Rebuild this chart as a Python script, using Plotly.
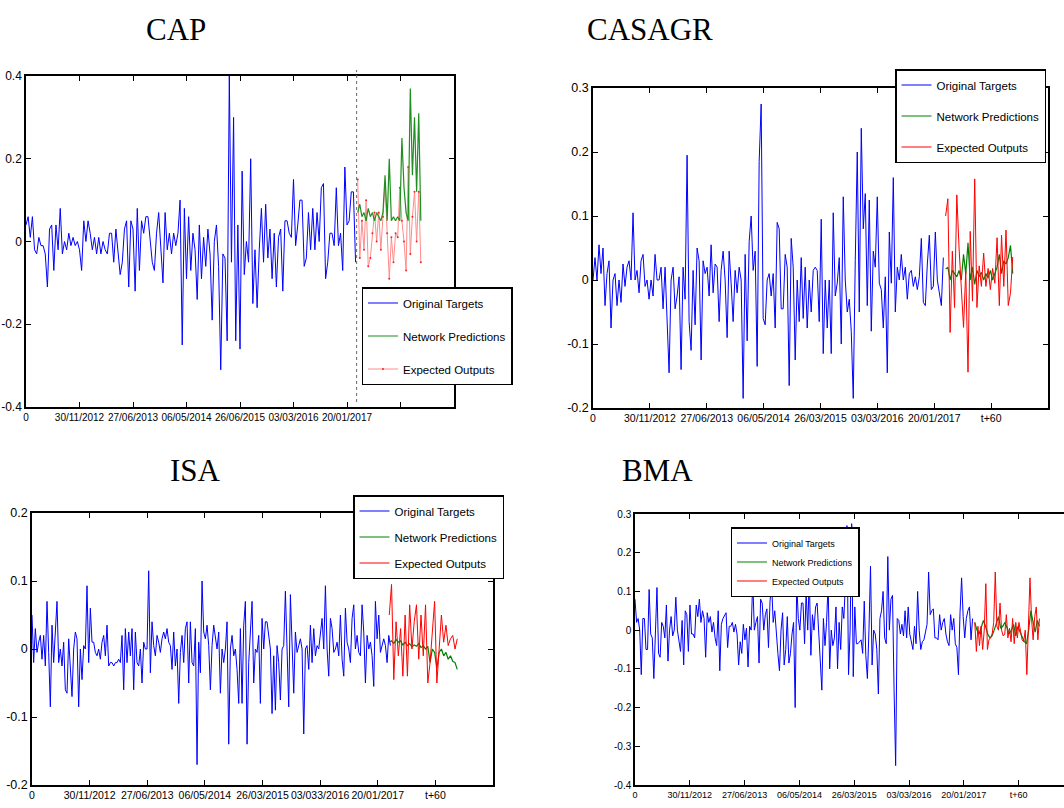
import numpy as np
import plotly.graph_objects as go

W, H = 1064, 808          # screenshot size

# ---------------- data ----------------
CAP_TARGETS = [
    0.04, 0.06, 0.01, 0.06, -0.02, -0.03, 0.01, -0.01, -0.01, -0.03,
    -0.11, 0.03, 0.04, -0.07, 0.04, -0.02, 0.08, -0.03, 0.0, -0.02,
    0.02, -0.01, 0.01, -0.01, 0.0, -0.02, -0.07, 0.05, 0.0, 0.05,
    0.02, -0.02, 0.01, -0.03, 0.01, -0.03, 0.0, -0.02, -0.03, 0.02,
    0.02, -0.05, 0.03, -0.02, -0.08, -0.05, 0.03, 0.05, -0.11, 0.05,
    0.03, -0.12, 0.08, -0.07, 0.05, 0.02, 0.06, 0.06, 0.0, -0.05,
    -0.07, 0.02, 0.07, -0.01, -0.10, 0.07, -0.02, 0.02, -0.03, 0.02,
    -0.01, 0.02, 0.10, -0.25, 0.08, -0.09, 0.06, -0.07, 0.02, -0.02,
    -0.14, 0.04, -0.09, 0.01, -0.06, 0.03, -0.03, -0.19, 0.0, 0.04,
    -0.06, -0.31, -0.03, -0.04, -0.24, 0.40, -0.05, 0.30, -0.24, 0.04,
    -0.26, 0.17, -0.08, 0.0, -0.05, 0.20, -0.15, -0.02, -0.16, -0.02,
    0.08, -0.05, 0.09, -0.04, 0.03, -0.09, 0.02, -0.11, 0.01, 0.03,
    -0.12, 0.05, 0.05, 0.02, 0.01, 0.15, -0.01, 0.04, 0.10, 0.10,
    -0.06, -0.04, 0.07, -0.02, 0.08, -0.02, 0.07, 0.0, 0.13, 0.14,
    -0.09, -0.05, 0.02, 0.02, -0.01, 0.13, -0.01, 0.02, -0.07, 0.18,
    0.04, 0.05, 0.12, 0.12, -0.05]
CAP_PRED = [
    0.07, 0.09, 0.06, 0.07, 0.05, 0.08, 0.06, 0.07, 0.05, 0.07,
    0.06, 0.05, 0.07, 0.16, 0.05, 0.20, 0.05, 0.06, 0.05, 0.06,
    0.05, 0.25, 0.13, 0.07, 0.05, 0.37, 0.16, 0.30, 0.12, 0.31, 0.05]
CAP_EXPECTED = [
    0.15, -0.04, 0.05, -0.02, 0.10, -0.06, -0.04, 0.02, 0.07, 0.0,
    0.07, -0.02, 0.06, 0.14, 0.02, -0.09, 0.01, -0.05, 0.02, 0.01,
    0.13, 0.05, 0.0, -0.07, 0.18, -0.03, 0.06, 0.12, 0.0, 0.12, -0.05]

CASAGR_TARGETS = [
    0.0, 0.035, 0.0, 0.055, 0.01, 0.05, -0.04, 0.01, 0.03, -0.075,
    0.0, 0.01, -0.04, 0.0, -0.035, 0.025, -0.01, 0.02, 0.03, 0.0,
    0.105, 0.0, 0.015, -0.02, 0.03, 0.04, -0.01, 0.0, -0.03, 0.0,
    -0.025, 0.04, 0.0, 0.0, 0.02, -0.045, 0.02, -0.055, -0.145, 0.0,
    0.02, -0.045, -0.025, 0.005, -0.14, 0.02, -0.03, 0.195, -0.065, -0.11,
    0.015, -0.07, 0.05, 0.03, -0.125, 0.03, 0.01, 0.02, -0.025, 0.055,
    -0.02, 0.025, 0.02, -0.065, 0.015, 0.045, 0.0, -0.09, 0.045, -0.005,
    -0.065, 0.015, -0.02, 0.02, 0.0, -0.185, 0.04, -0.095, 0.06, 0.10,
    0.015, 0.045, -0.135, 0.185, 0.275, -0.06, -0.07, 0.0, 0.01, -0.025,
    0.01, -0.075, 0.09, 0.08, -0.045, -0.045, 0.04, 0.02, -0.165, 0.065,
    0.02, -0.125, 0.0, -0.065, 0.035, -0.06, 0.02, -0.075, 0.0, -0.05,
    0.015, 0.02, 0.015, -0.065, 0.095, -0.115, 0.0, -0.075, 0.0, -0.115,
    0.105, -0.025, -0.005, 0.035, -0.1, 0.13, 0.0, -0.05, -0.03, -0.08,
    -0.185, 0.03, 0.2, -0.05, 0.237, 0.08, 0.135, -0.04, 0.125, -0.08,
    0.045, 0.02, 0.13, -0.005, -0.015, -0.075, 0.005, -0.145, 0.075, -0.005,
    0.16, -0.05, 0.02, 0.0, 0.04, 0.0, 0.02, -0.03, 0.01, 0.015,
    -0.01, 0.005, -0.015, 0.005, 0.065, -0.035, -0.04, 0.025, 0.07, -0.015,
    -0.01, 0.075, 0.0, -0.02, -0.04, 0.035]
CASAGR_PRED = [
    0.017, 0.02, 0.0, 0.015, 0.01, 0.005, 0.015, 0.0, 0.04, 0.01,
    0.058, 0.0, 0.02, -0.007, 0.015, 0.005, 0.012, 0.0, 0.01, 0.003,
    0.015, 0.0, 0.01, 0.02, 0.04, 0.01, 0.03, 0.025, 0.035, 0.054, 0.01]
CASAGR_EXPECTED = [
    0.10, 0.127, -0.082, 0.045, -0.043, 0.133, 0.05, -0.017, -0.074, 0.014,
    -0.144, 0.076, -0.033, 0.158, -0.043, 0.022, -0.01, 0.042, -0.01, 0.018,
    -0.015, 0.018, -0.005, 0.066, -0.04, 0.07, -0.01, 0.078, -0.04, -0.02, 0.036]

ISA_TARGETS = [
    0.05, -0.02, 0.03, -0.005, 0.01, 0.02, -0.015, 0.02, -0.025, 0.07,
    -0.005, -0.085, 0.035, -0.02, 0.025, 0.07, -0.02, 0.0, -0.025, 0.01,
    -0.06, -0.065, 0.015, -0.02, -0.07, 0.0, 0.025, 0.015, -0.085, 0.0,
    -0.045, 0.005, 0.0, 0.093, -0.02, 0.06, 0.01, 0.01, -0.005, -0.01,
    0.0, -0.015, 0.01, 0.02, -0.01, 0.035, -0.025, -0.02, -0.02, -0.025,
    -0.02, -0.02, -0.015, -0.02, 0.02, -0.06, 0.03, -0.02, 0.025, -0.01,
    0.03, -0.06, 0.025, -0.02, -0.025, 0.0, -0.05, 0.01, 0.0, 0.0,
    0.115, -0.035, 0.04, 0.005, -0.01, 0.02, 0.01, -0.005, 0.015, 0.025,
    0.015, 0.03, 0.01, 0.005, -0.03, 0.025, -0.025, 0.0, -0.08, -0.005,
    0.02, -0.02, 0.03, 0.04, -0.05, 0.04, -0.02, -0.025, 0.03, -0.17,
    0.01, -0.035, 0.1, 0.025, 0.015, 0.035, 0.005, -0.06, 0.005, 0.035,
    0.015, 0.0, 0.025, -0.065, 0.0, -0.02, 0.0, 0.04, -0.14, 0.0,
    0.02, -0.01, 0.0, -0.03, -0.08, 0.03, -0.08, 0.035, 0.07, -0.14,
    -0.02, 0.02, 0.07, -0.05, 0.0, -0.005, 0.02, -0.08, 0.045, 0.0,
    0.04, 0.04, 0.02, 0.0, -0.095, -0.01, -0.09, 0.005, -0.02, -0.075,
    0.0, 0.005, 0.085, 0.0, -0.085, 0.08, 0.0, -0.065, 0.025, -0.005,
    0.005, 0.015, 0.0, -0.125, 0.0, 0.005, -0.03, 0.035, -0.02, 0.03,
    -0.01, 0.005, 0.0, 0.02, 0.045, 0.0, 0.093, 0.0, -0.04, 0.045,
    0.03, -0.005, 0.0, 0.01, -0.01, 0.05, -0.015, -0.04, 0.06, 0.01,
    0.0, -0.02, 0.045, 0.065, 0.0, 0.02, -0.005, -0.01, 0.065, 0.025,
    -0.05, 0.02, 0.0, 0.01, -0.01, -0.055, 0.07, 0.015, 0.05, -0.005,
    0.005, 0.015, 0.005, -0.02, 0.02, 0.005]
ISA_PRED = [
    0.01, 0.012, 0.008, 0.014, 0.01, 0.012, 0.006, 0.01, 0.005, 0.008,
    0.003, 0.006, 0.004, 0.008, 0.002, 0.005, 0.0, 0.004, -0.02, 0.0,
    -0.005, -0.028, -0.005, 0.0, -0.01, -0.005, -0.015, -0.01, -0.018, -0.02, -0.03]
ISA_EXPECTED = [
    0.05, 0.095, -0.045, 0.04, -0.01, 0.03, -0.04, 0.05, -0.04, 0.065,
    0.0, 0.04, 0.065, -0.015, 0.05, -0.01, 0.065, -0.05, -0.02, 0.02,
    0.07, -0.05, 0.0, 0.05, 0.01, 0.035, 0.005, 0.015, 0.02, 0.0, 0.015]

BMA_TARGETS = [
    0.08, 0.02, 0.03, 0.0, -0.115, 0.03, 0.03, -0.05, -0.05, 0.105,
    -0.01, -0.02, -0.125, 0.0, 0.11, -0.06, -0.07, 0.02, 0.01, -0.02,
    0.065, -0.08, 0.0, 0.035, -0.015, 0.0, 0.085, 0.0, -0.03, -0.055,
    0.025, -0.09, 0.05, 0.04, -0.055, 0.065, -0.01, -0.01, -0.02, 0.065,
    0.035, 0.08, 0.02, 0.05, 0.03, -0.07, 0.045, 0.02, 0.035, -0.005,
    0.02, -0.02, -0.04, 0.05, -0.105, 0.015, 0.03, 0.04, 0.045, -0.045,
    0.01, 0.01, 0.02, -0.005, 0.015, -0.01, -0.09, -0.03, -0.06, 0.015,
    -0.025, 0.005, -0.095, 0.01, 0.0, 0.13, 0.0, 0.02, 0.035, -0.085,
    0.08, 0.07, 0.0, 0.04, 0.055, -0.045, 0.075, 0.12, 0.02, 0.05,
    -0.02, -0.06, -0.105, 0.0, 0.045, -0.09, -0.05, 0.035, -0.085, -0.06,
    -0.01, 0.02, -0.2, 0.12, 0.03, 0.0, 0.07, 0.07, -0.035, 0.1,
    0.0, 0.14, -0.065, 0.04, 0.0, 0.06, 0.07, 0.0, -0.09, -0.155,
    0.03, -0.04, 0.02, 0.12, -0.1, 0.0, -0.04, -0.02, 0.06, -0.1,
    0.02, -0.05, 0.06, 0.03, 0.12, 0.27, -0.115, 0.0, 0.275, -0.12,
    0.06, -0.035, -0.035, -0.03, -0.025, -0.06, 0.075, -0.065, -0.125, 0.0,
    0.165, -0.09, 0.0, -0.01, -0.05, -0.165, 0.03, 0.05, 0.1, -0.02,
    -0.035, 0.19, 0.0, 0.08, 0.09, -0.155, -0.35, 0.03, 0.025, -0.01,
    0.015, -0.015, 0.05, -0.02, 0.06, -0.01, -0.03, -0.05, 0.01, -0.035,
    0.1, 0.0, -0.05, -0.03, -0.025, 0.0, 0.015, 0.15, 0.04, 0.05,
    0.055, -0.02, -0.02, -0.025, 0.04, 0.0, 0.02, 0.03, -0.01, -0.03,
    -0.04, 0.04, 0.0, 0.03, -0.035, -0.045, -0.115, 0.045, 0.135, 0.035,
    -0.02, 0.03, 0.05, 0.06, -0.025, 0.03]
BMA_PRED = [
    0.02, 0.0, -0.01, 0.005, 0.025, 0.01, -0.01, -0.02, -0.015, 0.0,
    0.02, 0.035, 0.005, 0.01, 0.02, 0.005, -0.01, 0.0, 0.015, -0.015,
    0.01, -0.005, -0.02, -0.03, -0.035, 0.0, 0.05, 0.02, -0.005, 0.025, 0.01]
BMA_EXPECTED = [
    0.02, -0.055, 0.01, -0.04, 0.01, -0.05, 0.0, 0.12, -0.05, -0.025,
    -0.02, -0.01, 0.02, 0.15, 0.01, 0.0, 0.07, 0.0, -0.015, -0.01,
    0.04, -0.02, 0.005, -0.03, 0.03, -0.035, 0.02, -0.02, 0.02, 0.0,
    -0.025, -0.03, 0.0, -0.115, 0.045, 0.135, 0.03, -0.025, 0.035, 0.06,
    -0.025, 0.03]

# time index: history length and forecast window (t+60)
HIST_END = {"CAP": 308, "CASAGR": 308, "ISA": 311, "BMA": 308}
FC_START, FC_END = 310, 369

X_TICKVALS = [0, 50, 100, 150, 200, 250, 300, 350, 400]
X_LABELS = {
    "CAP": ["0", "30/11/2012", "27/06/2013", "06/05/2014", "26/06/2015", "03/03/2016", "20/01/2017", "", ""],
    "CASAGR": ["0", "30/11/2012", "27/06/2013", "06/05/2014", "26/03/2015", "03/03/2016", "20/01/2017", "t+60", ""],
    "ISA": ["0", "30/11/2012", "27/06/2013", "06/05/2014", "26/03/2015", "03/033/2016", "20/01/2017", "t+60", ""],
    "BMA": ["0", "30/11/2012", "27/06/2013", "06/05/2014", "26/03/2015", "03/03/2016", "20/01/2017", "t+60"],
}
Y_TICKVALS = {
    "CAP": [0.4, 0.2, 0, -0.2, -0.4],
    "CASAGR": [0.3, 0.2, 0.1, 0, -0.1, -0.2],
    "ISA": [0.2, 0.1, 0, -0.1, -0.2],
    "BMA": [0.3, 0.2, 0.1, 0, -0.1, -0.2, -0.3, -0.4],
}
Y_LABELS = {
    "CAP": ["0.4", "0.2", "0", "-0.2", "-0.4"],
    "CASAGR": ["0.3", "0.2", "0.1", "0", "-0.1", "-0.2"],
    "ISA": ["0.2", "0.1", "0", "-0.1", "-0.2"],
    "BMA": ["0.3", "0.2", "0.1", "0", "-0.1", "-0.2", "-0.3", "-0.4"],
}
SERIES_NAMES = ["Original Targets", "Network Predictions", "Expected Outputs"]

# ---------------- layout helpers (screen px -> paper fraction) ----------------
def px_x(p):
    return p / W

def px_y(p):
    return 1 - p / H

SANS = "Liberation Sans Narrow, Arial Narrow, Liberation Sans, Arial, sans-serif"
SERIF = "Liberation Serif, Times New Roman, serif"

panels = [
    dict(name="CAP", t=CAP_TARGETS, p=CAP_PRED, e=CAP_EXPECTED,
         xd=(26, 454), yd=(76, 407), xr=[0, 400], yr=[-0.4, 0.4],
         leg=(437, 287), lanchor="center", gap=14, lfs=11.5, xfs=10, yfs=12,
         green="#1f8f1f", red="#ff8c8c", red_first=True, title=(176, 29.5)),
    dict(name="CASAGR", t=CASAGR_TARGETS, p=CASAGR_PRED, e=CASAGR_EXPECTED,
         xd=(593, 1048), yd=(88, 408), xr=[0, 400], yr=[-0.2, 0.3],
         leg=(1046, 69), lanchor="right", gap=12, lfs=11.5, xfs=10.5, yfs=12.5,
         green="#008000", red="#ff0000", red_first=False, title=(650, 29.5)),
    dict(name="ISA", t=ISA_TARGETS, p=ISA_PRED, e=ISA_EXPECTED,
         xd=(32, 493), yd=(513, 785), xr=[0, 400], yr=[-0.2, 0.2],
         leg=(428.5, 495), lanchor="center", gap=7, lfs=11.5, xfs=10.5, yfs=12.5,
         green="#008000", red="#ff0000", red_first=False, title=(195, 470.5)),
    dict(name="BMA", t=BMA_TARGETS, p=BMA_PRED, e=BMA_EXPECTED,
         xd=(635, 1064), yd=(514, 785), xr=[0, 391.4], yr=[-0.4, 0.3],
         leg=(795, 527), lanchor="center", gap=0, lfs=9, xfs=9, yfs=10,
         green="#008000", red="#ff0000", red_first=False, title=(657.5, 470.5)),
]

fig = go.Figure()
layout = dict(
    width=W, height=H, margin=dict(l=0, r=0, t=0, b=0, autoexpand=False),
    paper_bgcolor="white", plot_bgcolor="white",
    font=dict(family=SANS, color="black"),
    showlegend=True,
)
annotations = []
shapes = []

for i, pn in enumerate(panels, start=1):
    sfx = "" if i == 1 else str(i)
    xa, ya = "x" + sfx, "y" + sfx
    legkey = "legend" if i == 1 else "legend" + str(i)

    xt = np.linspace(0, HIST_END[pn["name"]], len(pn["t"]))
    xp = np.linspace(FC_START, FC_END, len(pn["p"]))
    xe = np.linspace(FC_START, FC_END, len(pn["e"]))

    tr_t = go.Scatter(x=xt, y=pn["t"], mode="lines", name=SERIES_NAMES[0],
                      line=dict(color="#0000ff", width=1), xaxis=xa, yaxis=ya,
                      legend=legkey, legendgroup=f"{i}a", legendrank=1)
    tr_p = go.Scatter(x=xp, y=pn["p"], mode="lines", name=SERIES_NAMES[1],
                      line=dict(color=pn["green"], width=1.2), xaxis=xa, yaxis=ya,
                      legend=legkey, legendgroup=f"{i}b", legendrank=2)
    if pn["red_first"]:
        tr_e = go.Scatter(x=xe, y=pn["e"], mode="lines+markers", name=SERIES_NAMES[2],
                          line=dict(color=pn["red"], width=1),
                          marker=dict(size=2, color="#ff2020"),
                          xaxis=xa, yaxis=ya, legend=legkey, legendgroup=f"{i}c", legendrank=3)
        fig.add_trace(tr_t); fig.add_trace(tr_e); fig.add_trace(tr_p)
    else:
        tr_e = go.Scatter(x=xe, y=pn["e"], mode="lines", name=SERIES_NAMES[2],
                          line=dict(color=pn["red"], width=1),
                          xaxis=xa, yaxis=ya, legend=legkey, legendgroup=f"{i}c", legendrank=3)
        fig.add_trace(tr_t); fig.add_trace(tr_p); fig.add_trace(tr_e)

    xticks = X_TICKVALS[:len(X_LABELS[pn["name"]])]
    layout["xaxis" + sfx] = dict(
        domain=[px_x(pn["xd"][0]), min(1.0, px_x(pn["xd"][1]))], anchor=ya,
        range=pn["xr"], tickvals=xticks, ticktext=X_LABELS[pn["name"]],
        tickangle=0, automargin=False,
        ticks="inside", ticklen=5, tickwidth=1, tickcolor="black",
        showline=True, linecolor="black", linewidth=1.5, mirror="ticks",
        showgrid=False, zeroline=False, tickfont=dict(size=pn["xfs"], family=SANS),
    )
    layout["yaxis" + sfx] = dict(
        domain=[px_y(pn["yd"][1]), px_y(pn["yd"][0])], anchor=xa,
        range=pn["yr"], tickvals=Y_TICKVALS[pn["name"]], ticktext=Y_LABELS[pn["name"]],
        automargin=False,
        ticks="inside", ticklen=5, tickwidth=1, tickcolor="black",
        showline=True, linecolor="black", linewidth=1.5,
        mirror=("ticks" if pn["name"] != "BMA" else False),
        showgrid=False, zeroline=False, tickfont=dict(size=pn["yfs"], family=SANS),
    )
    layout[legkey] = dict(
        x=px_x(pn["leg"][0]), y=px_y(pn["leg"][1]), xanchor=pn["lanchor"], yanchor="top",
        xref="paper", yref="paper",
        bgcolor="white", bordercolor="black", borderwidth=1.5,
        font=dict(size=pn["lfs"], family=SANS, color="black"),
        tracegroupgap=pn["gap"], itemwidth=30, traceorder="grouped",
    )
    annotations.append(dict(
        text=pn["name"], x=px_x(pn["title"][0]), y=px_y(pn["title"][1]),
        xref="paper", yref="paper", xanchor="center", yanchor="middle",
        showarrow=False, font=dict(family=SERIF, size=31, color="black"),
    ))

# dotted separator between history and forecast (CAP panel)
sep = (HIST_END["CAP"] + FC_START) / 2
shapes.append(dict(type="line", xref="x", yref="paper", x0=sep, x1=sep,
                   y0=px_y(402), y1=px_y(70),
                   line=dict(color="#666666", width=1, dash="dot")))

layout["annotations"] = annotations
layout["shapes"] = shapes
fig.update_layout(**layout)

# place the figure flush with the page corner (no default body margin), no toolbar
fig.write_html(
    "out.html",
    config={"displayModeBar": False},
    post_script="document.body.style.margin='0';document.body.style.overflow='hidden';",
)
